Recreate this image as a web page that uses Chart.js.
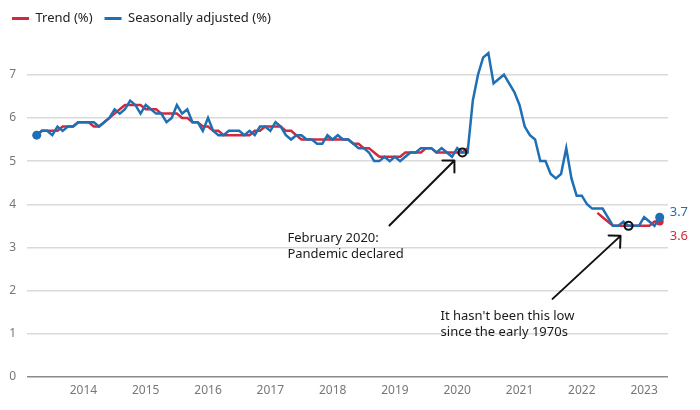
<!DOCTYPE html>
<html>
<head>
<meta charset="utf-8">
<script src="https://cdn.jsdelivr.net/npm/chart.js@4.4.0/dist/chart.umd.min.js"></script>
<style>
  html, body { margin: 0; padding: 0; background: #fff; }
  #wrap { width: 700px; height: 410px; }
</style>
</head>
<body>
<div id="wrap"><canvas id="unemploymentChart"></canvas></div>
<script>
// monthly series, April 2013 to April 2023
const firstMonth = "2013-04";
const yearTicks = [2014, 2015, 2016, 2017, 2018, 2019, 2020, 2021, 2022, 2023];

const seasonallyAdjusted = [
  5.6, 5.7, 5.7, 5.6, 5.8, 5.7, 5.8, 5.8, 5.9,
  5.9, 5.9, 5.9, 5.8, 5.9, 6.0, 6.2, 6.1, 6.2, 6.4, 6.3, 6.1,
  6.3, 6.2, 6.1, 6.1, 5.9, 6.0, 6.3, 6.1, 6.2, 5.9, 5.9, 5.7,
  6.0, 5.7, 5.6, 5.6, 5.7, 5.7, 5.7, 5.6, 5.7, 5.6, 5.8, 5.8,
  5.7, 5.9, 5.8, 5.6, 5.5, 5.6, 5.6, 5.5, 5.5, 5.4, 5.4, 5.6,
  5.5, 5.6, 5.5, 5.5, 5.4, 5.3, 5.3, 5.2, 5.0, 5.0, 5.1, 5.0,
  5.1, 5.0, 5.1, 5.2, 5.2, 5.3, 5.3, 5.3, 5.2, 5.3, 5.2, 5.1,
  5.3, 5.2, 5.2, 6.4, 7.0, 7.4, 7.5, 6.8, 6.9, 7.0, 6.8, 6.6,
  6.3, 5.8, 5.6, 5.5, 5.0, 5.0, 4.7, 4.6, 4.7, 5.3, 4.6, 4.2,
  4.2, 4.0, 3.9, 3.9, 3.9, 3.7, 3.5, 3.5, 3.6, 3.5, 3.5, 3.5,
  3.7, 3.6, 3.5, 3.7
];

// trend series was suspended through the pandemic
const trend = [
  5.6, 5.7, 5.7, 5.7, 5.7, 5.8, 5.8, 5.8, 5.9,
  5.9, 5.9, 5.8, 5.8, 5.9, 6.0, 6.1, 6.2, 6.3, 6.3, 6.3, 6.3,
  6.2, 6.2, 6.2, 6.1, 6.1, 6.1, 6.1, 6.0, 6.0, 5.9, 5.9, 5.8,
  5.8, 5.7, 5.7, 5.6, 5.6, 5.6, 5.6, 5.6, 5.6, 5.7, 5.7, 5.8,
  5.8, 5.8, 5.8, 5.7, 5.7, 5.6, 5.5, 5.5, 5.5, 5.5, 5.5, 5.5,
  5.5, 5.5, 5.5, 5.5, 5.4, 5.4, 5.3, 5.3, 5.2, 5.1, 5.1, 5.1,
  5.1, 5.1, 5.2, 5.2, 5.2, 5.2, 5.3, 5.3, 5.2, 5.2, 5.2, 5.2,
  5.2, 5.2, 5.3, null, null, null, null, null, null, null, null, null,
  null, null, null, null, null, null, null, null, null, null, null, null,
  null, null, null, 3.8, 3.7, 3.6, 3.5, 3.5, 3.5, 3.5, 3.5, 3.5,
  3.5, 3.5, 3.6, 3.6
];

const noteMonths = ["2020-02", "2022-10"];
const noteTexts = [
  ["February 2020:", "Pandemic declared"],
  ["It hasn't been this low", "since the early 1970s"]
];

const BLUE = "#1f6fb5";
const RED = "#d12a3c";
const FONT = "'Noto Sans', sans-serif";

function monthToYear(str) {
  const [y, m] = str.split("-").map(Number);
  return y + (m - 1) / 12;
}
const start = monthToYear(firstMonth);
const monthIndex = (str) => Math.round((monthToYear(str) - start) * 12);

const saPoints = seasonallyAdjusted.map((v, i) => ({ x: start + i / 12, y: v }));
const trendPoints = trend.map((v, i) => ({ x: start + i / 12, y: v }));
const notePoints = noteMonths.map((m) => ({ x: monthToYear(m), y: seasonallyAdjusted[monthIndex(m)] }));

// offsets of arrow tail / tip and text from the ringed point
const noteLayout = [
  { tail: [-73, 73], tip: [-8, 8], text: [-175, 86] },
  { tail: [-76, 73], tip: [-8, 10], text: [-188, 90] }
];

const notesPlugin = {
  id: "notes",
  afterDatasetsDraw(chart) {
    const ctx = chart.ctx;
    const pts = chart.getDatasetMeta(2).data;
    ctx.save();
    pts.forEach((p, i) => {
      const lay = noteLayout[i];
      const x1 = p.x + lay.tail[0], y1 = p.y + lay.tail[1];
      const x2 = p.x + lay.tip[0], y2 = p.y + lay.tip[1];
      ctx.strokeStyle = "#111";
      ctx.lineWidth = 2;
      ctx.lineCap = "round";
      ctx.beginPath();
      ctx.moveTo(x1, y1);
      ctx.lineTo(x2, y2);
      const ang = Math.atan2(y1 - y2, x1 - x2);
      [-Math.PI / 4, Math.PI / 4].forEach((d) => {
        ctx.moveTo(x2, y2);
        ctx.lineTo(x2 + 12 * Math.cos(ang + d), y2 + 12 * Math.sin(ang + d));
      });
      ctx.stroke();
      ctx.fillStyle = "#1a1a1a";
      ctx.font = "13px " + FONT;
      ctx.textAlign = "left";
      ctx.textBaseline = "middle";
      noteTexts[i].forEach((line, k) => {
        ctx.fillText(line, p.x + lay.text[0], p.y + lay.text[1] + k * 16);
      });
    });

    // end value labels
    const saMeta = chart.getDatasetMeta(1).data;
    const trMeta = chart.getDatasetMeta(0).data;
    const lastSa = saMeta[saMeta.length - 1];
    const lastTr = trMeta[trMeta.length - 1];
    ctx.font = "13px " + FONT;
    ctx.fillStyle = BLUE;
    ctx.fillText(seasonallyAdjusted[seasonallyAdjusted.length - 1].toFixed(1), lastSa.x + 10, lastSa.y - 5);
    ctx.fillStyle = RED;
    ctx.fillText(trend[trend.length - 1].toFixed(1), lastTr.x + 10, lastTr.y + 15);
    ctx.restore();
  }
};

const endDot = (n, r) => (c) => (c.dataIndex === n - 1 ? r : 0);

new Chart(document.getElementById("unemploymentChart"), {
  type: "line",
  data: {
    datasets: [
      {
        label: "Trend (%)",
        data: trendPoints,
        borderColor: RED,
        backgroundColor: RED,
        borderWidth: 2.5,
        pointRadius: endDot(trend.length, 4),
        pointBorderWidth: 0,
        spanGaps: false,
        order: 2
      },
      {
        label: "Seasonally adjusted (%)",
        data: saPoints,
        borderColor: BLUE,
        backgroundColor: BLUE,
        borderWidth: 2.5,
        pointRadius: (c) => (c.dataIndex === 0 || c.dataIndex === seasonallyAdjusted.length - 1 ? 4.5 : 0),
        pointBorderWidth: 0,
        order: 1
      },
      {
        label: "notes",
        data: notePoints,
        showLine: false,
        pointRadius: 4,
        pointBorderWidth: 2,
        pointBorderColor: "#111",
        pointBackgroundColor: "rgba(0,0,0,0)",
        order: 0
      }
    ]
  },
  options: {
    responsive: true,
    maintainAspectRatio: false,
    animation: false,
    events: [],
    layout: {
      padding: { top: 0, right: 32, bottom: 0, left: 0 }
    },
    plugins: {
      tooltip: { enabled: false },
      legend: {
        position: "top",
        align: "start",
        labels: {
          boxWidth: 17,
          boxHeight: 3,
          padding: 12,
          color: "#222",
          font: { family: FONT, size: 13 },
          generateLabels(chart) {
            return Chart.defaults.plugins.legend.labels.generateLabels(chart)
              .filter((l) => l.datasetIndex < 2)
              .sort((a, b) => a.datasetIndex - b.datasetIndex)
              .map((l) => Object.assign(l, { lineWidth: 0, fillStyle: l.strokeStyle }));
          }
        }
      }
    },
    scales: {
      x: {
        type: "linear",
        min: start - 1.87 / 12,
        max: start + 121.6 / 12,
        afterBuildTicks(scale) {
          scale.ticks = yearTicks.map((y) => ({ value: y }));
        },
        afterFit(scale) {
          scale.height = 33;
        },
        grid: { display: false, drawTicks: false },
        border: { display: false },
        ticks: {
          padding: 6,
          maxRotation: 0,
          autoSkip: false,
          color: "#777",
          font: { family: FONT, size: 12 },
          callback: (v) => String(v)
        }
      },
      y: {
        min: 0,
        max: 7.92,
        afterBuildTicks(scale) {
          scale.ticks = scale.ticks.filter((t) => Number.isInteger(t.value));
        },
        afterFit(scale) {
          scale.width = 27;
        },
        grid: {
          drawTicks: false,
          color: (c) => (c.tick && c.tick.value === 0 ? "#8a8a8a" : "#dadada"),
          lineWidth: 1.5
        },
        border: { display: false },
        ticks: {
          stepSize: 1,
          padding: 11,
          color: "#777",
          font: { family: FONT, size: 12 }
        }
      }
    }
  },
  plugins: [notesPlugin]
});
</script>
</body>
</html>
